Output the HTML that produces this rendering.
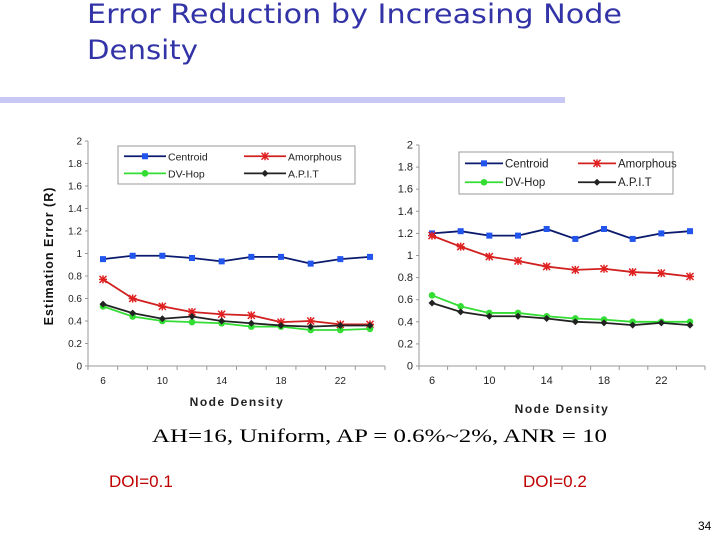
<!DOCTYPE html>
<html><head><meta charset="utf-8"><style>
body{margin:0;width:720px;height:540px;background:#fff;position:relative;overflow:hidden;font-family:"Liberation Sans",sans-serif}
.t{position:absolute}
</style></head><body>
<div class="t" style="left:0;top:97px;width:565px;height:6px;background:#c8c8f4"></div>
<svg class="t" style="left:0;top:0" width="720" height="540">
<text x="87" y="23" font-family="DejaVu Sans, sans-serif" font-size="27" fill="#3333a8" textLength="535" lengthAdjust="spacingAndGlyphs">Error Reduction by Increasing Node</text>
<text x="87" y="59" font-family="DejaVu Sans, sans-serif" font-size="27" fill="#3333a8" textLength="111" lengthAdjust="spacingAndGlyphs">Density</text>
<text x="152" y="442" font-family="Liberation Serif, serif" font-size="19" fill="#000" textLength="455" lengthAdjust="spacingAndGlyphs">AH=16, Uniform, AP = 0.6%~2%, ANR = 10</text>
</svg>
<div class="t" style="left:109px;top:472px;font-size:17px;color:#c00000">DOI=0.1</div>
<div class="t" style="left:523px;top:472px;font-size:17px;color:#c00000">DOI=0.2</div>
<div class="t" style="left:698px;top:519px;font-size:12px;color:#000">34</div>
<script>
const xCats=[6,8,10,12,14,16,18,20,22,24];
const xTickLabels=[6,10,14,18,22];
const yTicks=[0,0.2,0.4,0.6,0.8,1,1.2,1.4,1.6,1.8,2];
const seriesNames=["Centroid","Amorphous","DV-Hop","A.P.I.T"];
const leftCentroid=[.95,.98,.98,.96,.93,.97,.97,.91,.95,.97];
const leftAmorphous=[.77,.60,.53,.48,.46,.45,.39,.40,.37,.37];
const leftDVHop=[.53,.44,.40,.39,.38,.35,.35,.32,.32,.33];
const leftAPIT=[.55,.47,.42,.44,.40,.38,.36,.35,.36,.36];
const rightCentroid=[1.20,1.22,1.18,1.18,1.24,1.15,1.24,1.15,1.20,1.22];
const rightAmorphous=[1.18,1.08,.99,.95,.90,.87,.88,.85,.84,.81];
const rightDVHop=[.64,.54,.48,.48,.45,.43,.42,.40,.40,.40];
const rightAPIT=[.57,.49,.45,.45,.43,.40,.39,.37,.39,.37];
const NS="http://www.w3.org/2000/svg";
const svg=document.querySelector('svg');
function mk(tag,attrs,parent){const e=document.createElementNS(NS,tag);for(const k in attrs)e.setAttribute(k,attrs[k]);(parent||svg).appendChild(e);return e;}
const styles=[{c:"#0a1a6e",m:"#2255ee",k:"sq"},{c:"#d02020",m:"#e02020",k:"x"},{c:"#33dd33",m:"#33dd33",k:"ci"},{c:"#222",m:"#222",k:"di"}];
function marker(g,k,x,y,col){
 if(k==="sq")return mk('rect',{x:x-3,y:y-3,width:6,height:6,fill:col},g);
 if(k==="ci")return mk('circle',{cx:x,cy:y,r:3.3,fill:col},g);
 if(k==="di")return mk('path',{d:`M${x} ${y-3.5}L${x+3.5} ${y}L${x} ${y+3.5}L${x-3.5} ${y}Z`,fill:col},g);
 return mk('path',{d:`M${x-3.5} ${y-3.5}L${x+3.5} ${y+3.5}M${x+3.5} ${y-3.5}L${x-3.5} ${y+3.5}M${x} ${y-4}V${y+4}M${x-4} ${y}H${x+4}`,stroke:col,'stroke-width':1.5},g);
}
function chart(cfg,data,name){
 const g=mk('g',{});
 
 
 const sx=v=>cfg.x6+(v-6)*(cfg.x24-cfg.x6)/18;
 const sy=v=>cfg.y0-v*(cfg.y0-cfg.y2)/2;
 mk('line',{x1:cfg.ax,y1:cfg.y2,x2:cfg.ax,y2:cfg.y0,stroke:'#999'},g);
 mk('line',{x1:cfg.ax,y1:cfg.y0,x2:cfg.axEnd,y2:cfg.y0,stroke:'#999'},g);
 yTicks.forEach(v=>{
  mk('line',{x1:cfg.ax-3,x2:cfg.ax,y1:sy(v),y2:sy(v),stroke:'#999'},g);
  const t=mk('text',{x:cfg.ax-6,y:sy(v)+3.5,'font-size':cfg.fs,'text-anchor':'end',fill:'#222'},g);t.textContent=String(v);
  
  
 });
 for(let i=0;i<=10;i++){const x=cfg.ax+i*(cfg.axEnd-cfg.ax)/10;mk('line',{x1:x,x2:x,y1:cfg.y0,y2:cfg.y0+4,stroke:'#999'},g);}
 xTickLabels.forEach(v=>{
  const t=mk('text',{x:sx(v),y:cfg.y0+18,'font-size':cfg.fs,'text-anchor':'middle',fill:'#222'},g);t.textContent=String(v);
  
  
 });
 const xt=mk('text',{x:cfg.xtX,y:cfg.xtY,'font-size':12,'font-weight':'bold','text-anchor':'middle','letter-spacing':'1.5','fill':'#222'},g);xt.textContent="Node Density";
 
 
 data.forEach((arr,si)=>{
  const s=styles[si];
  const p=mk('polyline',{points:arr.map((v,i)=>sx(xCats[i])+','+sy(v)).join(' '),fill:'none',stroke:s.c,'stroke-width':1.8},g);
  
  
  arr.forEach((v,i)=>{const m=marker(g,s.k,sx(xCats[i]),sy(v),s.m);
   
   });
 });
 const L=cfg.leg;
 const lb=mk('rect',{x:L.x,y:L.y,width:L.w,height:L.h,fill:'#fff',stroke:'#999'},g);
 
 
 seriesNames.forEach((n,i)=>{
  const col=i%2,row=Math.floor(i/2);
  const lx=L.x+6+col*L.cw, ly=L.y+L.h*(row===0?0.27:0.72);
  mk('line',{x1:lx,x2:lx+L.lw,y1:ly,y2:ly,stroke:styles[i].c,'stroke-width':1.8},g);
  marker(g,styles[i].k,lx+L.lw/2,ly,styles[i].m);
  const t=mk('text',{x:lx+L.lw+2,y:ly+4,'font-size':L.fs,fill:'#222'},g);t.textContent=n;
  
  
 });
}
chart({x6:103,x24:370,y0:366,y2:141,ax:88,axEnd:385,fs:10,xtX:237,xtY:406,leg:{x:118,y:146,w:237,h:38,cw:120,lw:42,fs:10.5}},[leftCentroid,leftAmorphous,leftDVHop,leftAPIT],'chart-doi-0-1');
chart({x6:432,x24:690,y0:366,y2:145,ax:419,axEnd:705,fs:11,xtX:562,xtY:413,leg:{x:459,y:152,w:214,h:42,cw:113,lw:38,fs:11.5}},[rightCentroid,rightAmorphous,rightDVHop,rightAPIT],'chart-doi-0-2');
const yt=mk('text',{x:0,y:0,'font-size':12.5,'font-weight':'bold','text-anchor':'middle','letter-spacing':'1',fill:'#111',transform:'translate(53,256) rotate(-90)'});
yt.textContent="Estimation Error  (R)";


</script>
</body></html>
